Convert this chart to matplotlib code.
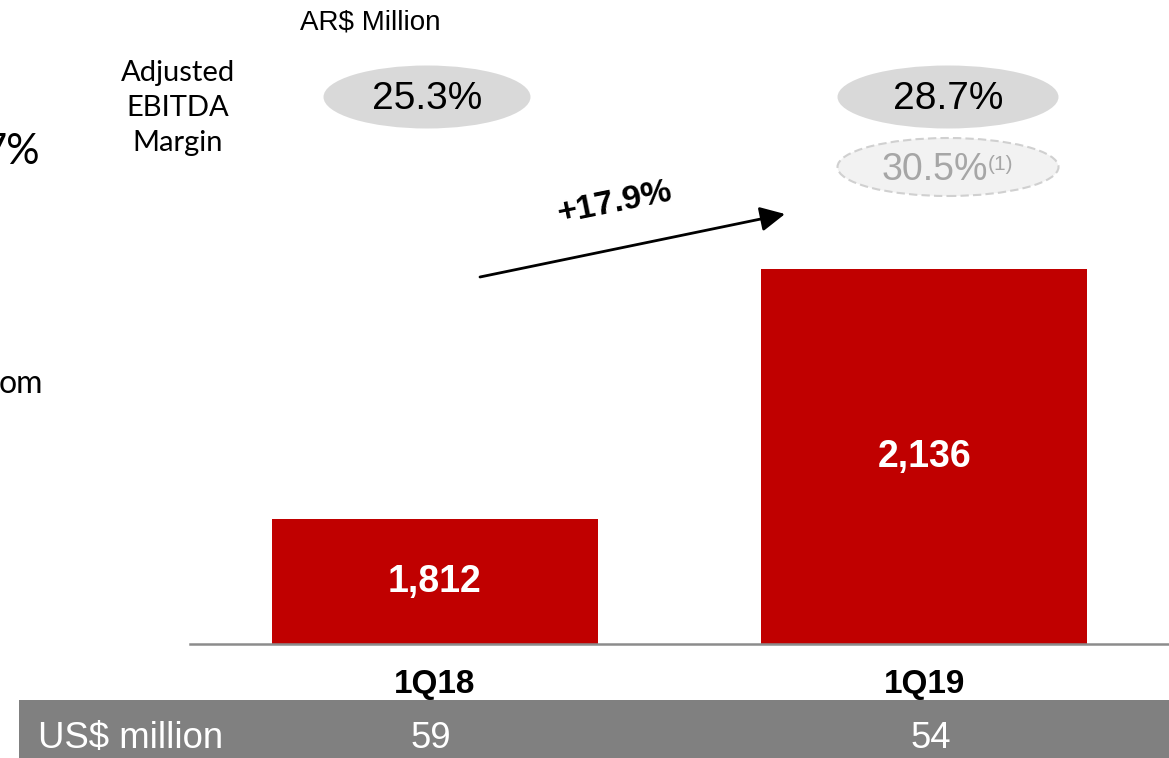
import matplotlib
matplotlib.use("Agg")
import matplotlib.pyplot as plt
from matplotlib.patches import Ellipse, Rectangle, FancyArrowPatch

# --- data ---
quarters = ["1Q18", "1Q19"]
ebitda_ars = [1812, 2136]          # AR$ million
ebitda_usd = [59, 54]              # US$ million
margins = ["25.3%", "28.7%"]
margin_adj = "30.5%"
growth_label = "+17.9%"

W, H = 1169, 758
fig = plt.figure(figsize=(W / 100, H / 100), dpi=100)
fig.patch.set_facecolor("white")

ARIAL = "Liberation Sans"
CAL = "Lato"


def fx(x):
    return x / W


def fy(y):
    return 1 - y / H


# --- bar axes (truncated value axis) ---
ax_left, ax_right, ax_bottom = 190, 1169, 644
ax = fig.add_axes([fx(ax_left), fy(ax_bottom), (ax_right - ax_left) / W, ax_bottom / H])
y0 = 1650
ypp = 1.296  # value per pixel
ax.set_ylim(y0, y0 + ax_bottom * ypp)
ax.set_xlim(-0.5, 1.5)

xpos = list(range(len(quarters)))
ax.bar(xpos, ebitda_ars, width=0.667, color="#c00000", zorder=2)
for x, v in zip(xpos, ebitda_ars):
    ax.text(x, (y0 + v) / 2, f"{v:,}", ha="center", va="center",
            color="white", fontsize=27, fontweight="bold", family=ARIAL, zorder=3)

for s in ["top", "right", "left"]:
    ax.spines[s].set_visible(False)
ax.spines["bottom"].set_color("#8c8c8c")
ax.spines["bottom"].set_linewidth(1.8)
ax.set_yticks([])
ax.set_xticks(xpos)
ax.set_xticklabels(quarters, fontsize=24, fontweight="bold", family=ARIAL)
ax.tick_params(axis="x", length=0, pad=18)
ax.patch.set_alpha(0)

# --- header labels ---
fig.text(fx(370), fy(23), "AR$ Million", ha="center", va="center",
         fontsize=20, family=ARIAL)
fig.text(fx(178), fy(108), "Adjusted\nEBITDA\nMargin", ha="center", va="center",
         fontsize=21, family=CAL, linespacing=1.42)

# truncated labels from the neighbouring panel
fig.text(fx(40), fy(152), "7%", ha="right", va="center", fontsize=30, family=CAL)
fig.text(fx(43), fy(384), "om", ha="right", va="center", fontsize=23, family=CAL)

# --- margin ellipses ---
centres = [427, 948]
widths = [207, 221]
for cx, w, m in zip(centres, widths, margins):
    e = Ellipse((fx(cx), fy(97)), w / W, 63 / H, transform=fig.transFigure,
                facecolor="#d9d9d9", edgecolor="none")
    fig.add_artist(e)
    fig.text(fx(cx), fy(99), m, ha="center", va="center", fontsize=28, family=ARIAL)

e2 = Ellipse((fx(948), fy(167)), 221 / W, 58 / H, transform=fig.transFigure,
             facecolor="#f2f2f2", edgecolor="#d0d0d0", linestyle=(0, (4, 2)), linewidth=1.5)
fig.add_artist(e2)
fig.text(fx(935), fy(170), margin_adj, ha="center", va="center", fontsize=27,
         family=ARIAL, color="#a6a6a6")
fig.text(fx(988), fy(165), "(1)", ha="left", va="center", fontsize=15,
         family=ARIAL, color="#a6a6a6")

# --- growth arrow ---
fig.add_artist(FancyArrowPatch(
    (fx(480), fy(277)), (fx(785), fy(214)), transform=fig.transFigure,
    arrowstyle="-|>,head_length=10,head_width=5", color="black", linewidth=2,
    mutation_scale=1.5, shrinkA=0, shrinkB=0))
fig.text(fx(615), fy(203), growth_label, ha="center", va="center", rotation=11.5,
         rotation_mode="anchor", fontsize=24.5, fontweight="bold", family=ARIAL)

# --- US$ footer strip ---
fig.add_artist(Rectangle((fx(19), fy(758)), (1169 - 19) / W, 58 / H,
                         transform=fig.transFigure, facecolor="#808080", edgecolor="none"))
fig.text(fx(38), fy(738), "US$ million", ha="left", va="center", fontsize=26.3,
         family=ARIAL, color="white")
for xc, v in zip([431, 931], ebitda_usd):
    fig.text(fx(xc), fy(738), str(v), ha="center", va="center", fontsize=26.3,
             family=ARIAL, color="white")

fig.savefig("out.png", dpi=100)
